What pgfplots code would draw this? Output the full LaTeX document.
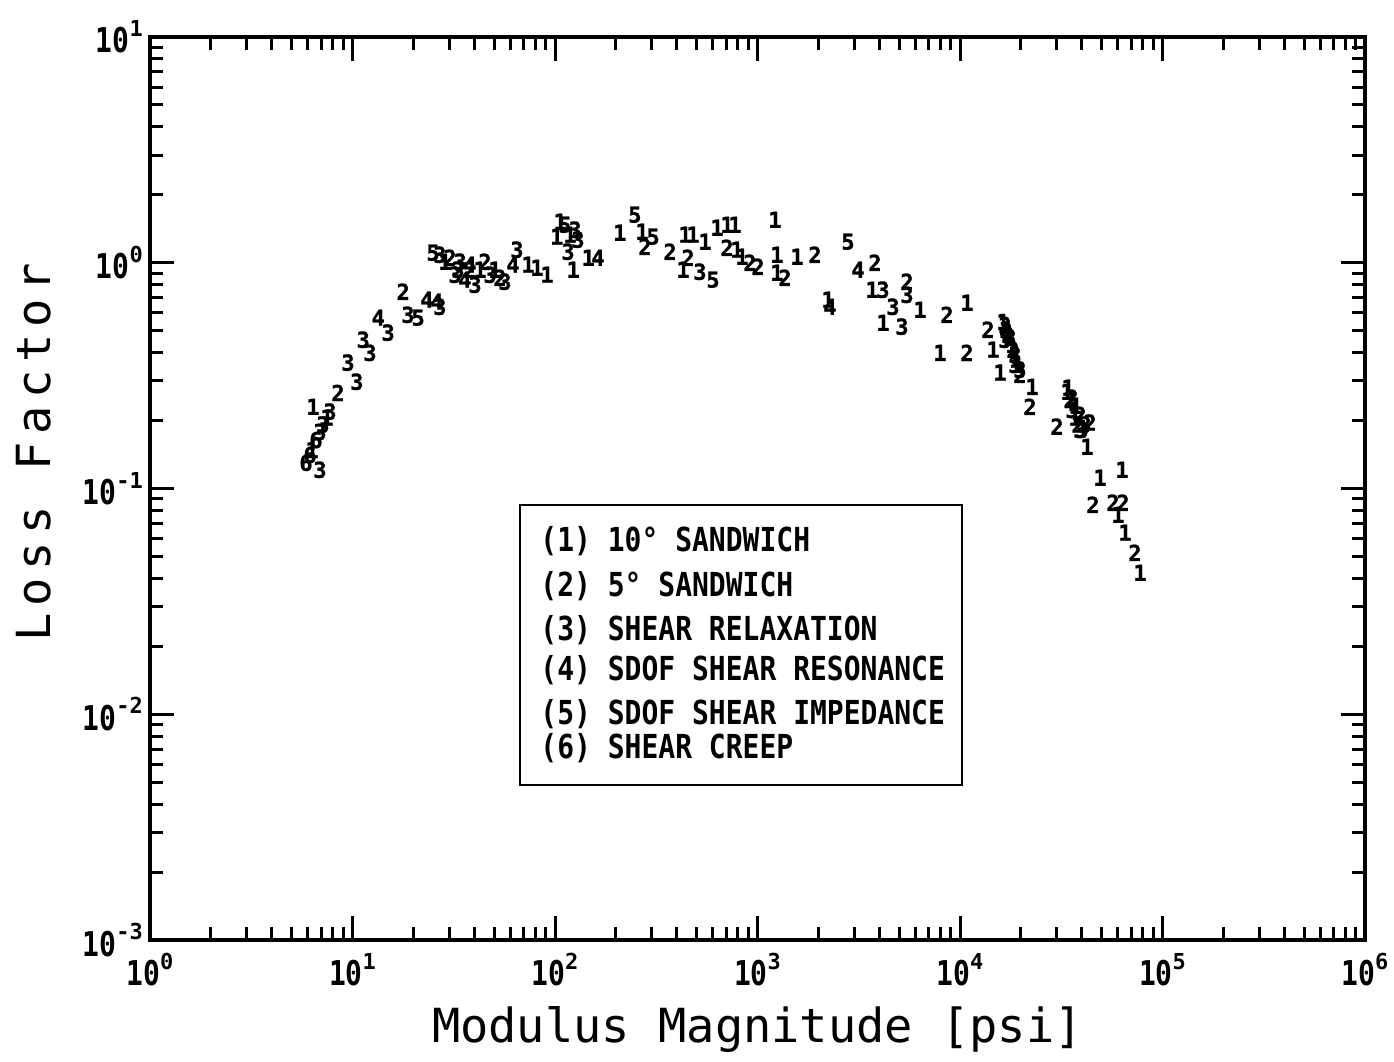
\documentclass[border=0pt]{standalone}
\usepackage{fontspec}
\usepackage{graphicx}
\setmainfont{DejaVu Sans Mono}
\newfontfamily\ylabfont{DejaVu Sans Mono}[LetterSpace=16]
\newfontfamily\markfam{DejaVu Sans Mono}[BoldFeatures={FakeBold=1.2}]
\usepackage{pgfplots}
\pgfplotsset{compat=1.18}
\newcommand\tickf{\fontsize{14}{14}\selectfont\bfseries}
\newcommand\expf{\fontsize{11}{11}\selectfont\bfseries}
\newcommand\markf{\markfam\fontsize{11}{11}\selectfont\bfseries}
\newcommand\legf{\fontsize{14}{14}\selectfont\bfseries}
\newcommand\legline[1]{\scalebox{1}[1.18]{\legf #1}}
\newcommand\ticklab{\scalebox{1}[1.22]{\tickf 10}\raisebox{1.5ex}{\expf\pgfmathparse{int(round(\tick))}\pgfmathresult}}
\begin{document}
\begin{tikzpicture}
\begin{axis}[name=ax,
  xmode=log, ymode=log, log basis x=10, log basis y=10,
  scale only axis, width=607.5pt, height=451.5pt,
  xmin=1, xmax=1e6, ymin=1e-3, ymax=10,
  xtick={1,10,100,1000,10000,100000,1000000},
  ytick={0.001,0.01,0.1,1,10},
  minor xtick={2,3,4,5,6,7,8,9,20,30,40,50,60,70,80,90,200,300,400,500,600,700,800,900,2000,3000,4000,5000,6000,7000,8000,9000,20000,30000,40000,50000,60000,70000,80000,90000,200000,300000,400000,500000,600000,700000,800000,900000},
  minor ytick={0.002,0.003,0.004,0.005,0.006,0.007,0.008,0.009,0.02,0.03,0.04,0.05,0.06,0.07,0.08,0.09,0.2,0.3,0.4,0.5,0.6,0.7,0.8,0.9,2,3,4,5,6,7,8,9},
  tick align=inside, tick pos=both,
  major tick length=12pt, minor tick length=6.5pt,
  every tick/.style={black, line width=1.5pt},
  every minor tick/.style={black, line width=1.5pt},
  axis line style={line width=2pt},
  xticklabel={\ticklab},
  yticklabel={\ticklab},
  xticklabel style={yshift=-3pt},
  every axis x label/.style={at={(rel axis cs:0.5,0)}, yshift=-45pt, anchor=center},
  every axis y label/.style={at={(rel axis cs:0,0.54)}, xshift=-58pt, rotate=90, anchor=center},
  xlabel={\fontsize{23.5}{23.5}\selectfont Modulus Magnitude [psi]},
  ylabel={\ylabfont\fontsize{23.5}{23.5}\selectfont Loss Factor},
  clip=false,
  every axis plot/.append style={only marks, mark=text, text mark as node=true, text mark style={inner sep=0pt}},
]
\addplot[text mark={\markf 1}] coordinates {
(6.38,0.230) (6.31,0.148) (7.48,0.206) (28.6,1.010) (42.6,0.931) (50.5,0.931)
(73.6,0.980) (81.5,0.950)
(91.3,0.885) (102,1.304) (106,1.519) (118.6,1.331) (123,0.931) (146,1.052) (209,1.358)
(269,1.372) (429,0.931) (439,1.331) (480,1.331) (551,1.239) (631,1.429)
(707,1.473) (774,1.473) (792,1.142) (838,1.063) (1220,1.550) (1248,1.085)
(1248,0.903) (1567,1.063) (2229,0.686) (3677,0.759) (4167,0.542) (6346,0.619)
(7964,0.399) (10830,0.665) (14560,0.412) (15760,0.326) (16310,0.547) (18060,0.433)
(18900,0.372) (19340,0.353) (22680,0.282) (33770,0.268) (34150,0.2795) (37400,0.2326)
(36990,0.206) (42380,0.153)
(49140,0.1116) (63100,0.121) (60300,0.0765) (65300,0.0637) (77440,0.0423)
};
\addplot[text mark={\markf 2}] coordinates {
(8.48,0.265) (17.8,0.744) (30.3,1.052) (38.0,0.931) (45.1,1.010) (53.5,0.858) (278,1.177)
(370,1.119) (454,1.052) (707,1.165) (918,1.000) (1006,0.960) (1367,0.858)
(1923,1.085) (3803,1.000) (5474,0.824) (8626,0.588) (10830,0.399) (13750,0.505)
(16680,0.531) (16880,0.505) (17260,0.480) (18270,0.412) (19790,0.319) (22170,0.230) (30130,0.188)
(34940,0.247) (38270,0.192) (39150,0.212) (43860,0.196) (45380,0.0847) (56960,0.0865)
(63810,0.0865) (73150,0.0519)
};
\addplot[text mark={\markf 3}] coordinates {
(6.91,0.121) (6.91,0.178) (7.15,0.192) (7.74,0.219) (9.50,0.361) (10.5,0.297)
(11.3,0.456) (12.2,0.399) (15.0,0.490) (18.8,0.588) (27.0,0.638) (27.0,1.085)
(32.1,0.885) (33.2,0.931) (34.0,1.010) (40.3,0.799) (47.8,0.885) (56.6,0.824) (64.9,1.142)
(116,1.119) (125.6,1.400) (129.9,1.265) (520,0.912) (4167,0.759) (4668,0.638) (5171,0.521)
(5474,0.721) (16680,0.456) (17660,0.466) (18690,0.391) (18690,0.353) (19790,0.336)
(35750,0.223) (35750,0.252)
(39150,0.182) (40060,0.182) (41430,0.192)
};
\addplot[text mark={\markf 4}] coordinates {
(13.4,0.571) (23.3,0.686) (26.1,0.672) (35.9,0.841) (38.0,0.980) (62.0,0.980)
(163,1.052) (2280,0.638) (3136,0.931)
};
\addplot[text mark={\markf 5}] coordinates {
(21.1,0.571) (25.0,1.107) (112,1.473) (248,1.632) (305,1.304) (603,0.841)
(2799,1.239)
};
\addplot[text mark={\markf 6}] coordinates {
(5.89,0.130) (6.17,0.141) (6.60,0.164)
};
\draw[line width=1pt] (rel axis cs:0.3045,0.1717) rectangle (rel axis cs:0.668,0.4817);
\node[anchor=west, inner sep=0pt] at (rel axis cs:0.321,0.4419) {\legline{(1) 10° SANDWICH}};
\node[anchor=west, inner sep=0pt] at (rel axis cs:0.321,0.3920) {\legline{(2) 5° SANDWICH}};
\node[anchor=west, inner sep=0pt] at (rel axis cs:0.321,0.3433) {\legline{(3) SHEAR RELAXATION}};
\node[anchor=west, inner sep=0pt] at (rel axis cs:0.321,0.2990) {\legline{(4) SDOF SHEAR RESONANCE}};
\node[anchor=west, inner sep=0pt] at (rel axis cs:0.321,0.2503) {\legline{(5) SDOF SHEAR IMPEDANCE}};
\node[anchor=west, inner sep=0pt] at (rel axis cs:0.321,0.2126) {\legline{(6) SHEAR CREEP}};
\end{axis}
\path (ax.south west) ++(-75pt,-61pt) coordinate (bl);
\path (ax.north east) ++(14.5pt,18.5pt) coordinate (tr);
\pgfresetboundingbox
\path[use as bounding box] (bl) rectangle (tr);
\end{tikzpicture}
\end{document}
